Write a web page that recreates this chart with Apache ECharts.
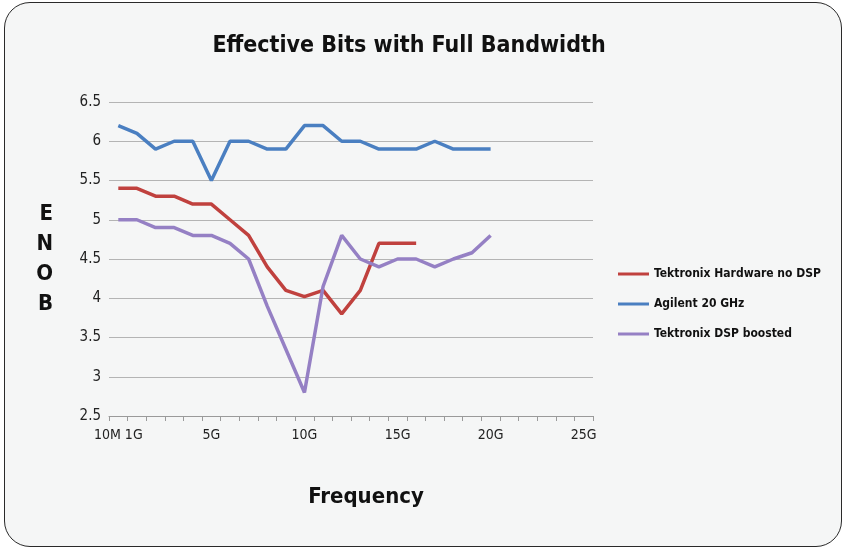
<!DOCTYPE html>
<html><head><meta charset="utf-8">
<script src="https://cdn.jsdelivr.net/npm/echarts@6/dist/echarts.min.js"></script>
<style>
html,body{margin:0;padding:0;background:#fff;}
#frame{position:absolute;left:4px;top:2px;width:836px;height:543px;border:1.5px solid #2a2a2a;border-radius:26px;background:#f5f6f6;overflow:hidden;}
#chart{position:absolute;left:-4px;top:-2px;width:847px;height:550px;}
</style></head>
<body><div id="frame"><div id="chart"></div></div>
<script>
var categories = ["10M 1G","1G","2G","3G","4G","5G","6G","7G","8G","9G","10G","11G","12G","13G","14G","15G","16G","17G","18G","19G","20G","21G","22G","23G","24G","25G"];
var tekHardware = [5.4,5.4,5.3,5.3,5.2,5.2,5.0,4.8,4.4,4.1,4.02,4.1,3.8,4.1,4.7,4.7,4.7];
var agilent = [6.2,6.1,5.9,6.0,6.0,5.5,6.0,6.0,5.9,5.9,6.2,6.2,6.0,6.0,5.9,5.9,5.9,6.0,5.9,5.9,5.9];
var tekDsp = [5.0,5.0,4.9,4.9,4.8,4.8,4.7,4.5,3.9,3.35,2.8,4.15,4.8,4.5,4.4,4.5,4.5,4.4,4.5,4.58,4.8];
var yTicks = {min:2.5, max:6.5, interval:0.5};

var F = "'DejaVu Sans Condensed','Liberation Sans Narrow',sans-serif";
var chart = echarts.init(document.getElementById('chart'));
chart.setOption({
  backgroundColor:'transparent',
  title:{text:'Effective Bits with Full Bandwidth',left:403,textAlign:'center',top:29,
    textStyle:{fontFamily:F,fontWeight:'bold',fontSize:23,color:'#111'}},
  legend:{orient:'vertical',left:612,top:262,itemGap:18,itemWidth:31,itemHeight:3,icon:'rect',
    textStyle:{fontFamily:F,fontWeight:'bold',fontSize:12,color:'#111'},
    data:['Tektronix Hardware no DSP','Agilent 20 GHz','Tektronix DSP boosted']},
  grid:{left:108,right:255,top:101,bottom:135},
  xAxis:{type:'category',data:categories,boundaryGap:true,
    name:'Frequency',nameLocation:'middle',nameGap:70,
    nameTextStyle:{fontFamily:F,fontWeight:'bold',fontSize:22,color:'#111',padding:[0,0,0,30]},
    axisLine:{lineStyle:{color:'#9a9a9a',width:1}},
    axisTick:{show:true,interval:0,length:5,lineStyle:{color:'#9a9a9a'}},
    axisLabel:{interval:function(i){return i%5===0;},fontFamily:F,fontSize:14,color:'#222',margin:12},
    splitLine:{show:false}},
  yAxis:{type:'value',min:yTicks.min,max:yTicks.max,interval:yTicks.interval,
    name:'E\nN\nO\nB',nameLocation:'middle',nameRotate:0,nameGap:56,
    nameTextStyle:{fontFamily:F,fontWeight:'bold',fontSize:22,color:'#111',lineHeight:30},
    axisLine:{show:false},axisTick:{show:false},
    axisLabel:{fontFamily:F,fontSize:15,color:'#222',margin:8},
    splitLine:{lineStyle:{color:'#b4b4b4',width:1}}},
  series:[
    {name:'Tektronix Hardware no DSP',type:'line',data:tekHardware,symbol:'none',lineStyle:{width:3.5,color:'#c0413e'},itemStyle:{color:'#c0413e'}},
    {name:'Agilent 20 GHz',type:'line',data:agilent,symbol:'none',lineStyle:{width:3.5,color:'#4a7fc1'},itemStyle:{color:'#4a7fc1'}},
    {name:'Tektronix DSP boosted',type:'line',data:tekDsp,symbol:'none',lineStyle:{width:3.5,color:'#9580c4'},itemStyle:{color:'#9580c4'}}
  ]
});
</script></body></html>
